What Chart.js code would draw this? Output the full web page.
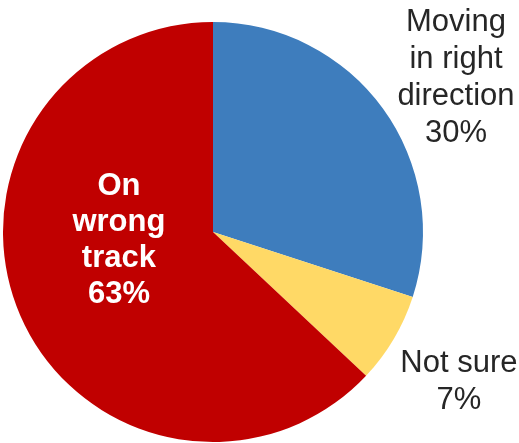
<!DOCTYPE html>
<html>
<head>
<meta charset="utf-8">
<script src="https://cdn.jsdelivr.net/npm/chart.js@4.4.0/dist/chart.umd.min.js"></script>
<style>
    html, body { margin: 0; padding: 0; background: #ffffff; }
    #wrap { width: 519px; height: 443px; position: relative; }
</style>
</head>
<body>
<div id="wrap"><canvas id="pieChart"></canvas></div>
<script>
// Chart data
const categories = ['Moving in right direction', 'Not sure', 'On wrong track'];
const shares = [30, 7, 63];
const sliceColors = ['#3E7DBD', '#FFD966', '#C00000'];

// Label text, one entry per line
const labelLines = [
    ['Moving', 'in right', 'direction', '30%'],
    ['Not sure', '7%'],
    ['On', 'wrong', 'track', '63%']
];

// Where each label sits, relative to the pie centre (in radii)
const labelSpots = [
    { dx: 1.157, dy: -0.957, color: '#262626', bold: false, lineH: 37 },
    { dx: 1.171, dy: 0.667, color: '#262626', bold: false, lineH: 37 },
    { dx: -0.448, dy: -0.176, color: '#ffffff', bold: true, lineH: 36 }
];

const sliceLabels = {
    id: 'sliceLabels',
    afterDatasetsDraw(chart) {
        const ctx = chart.ctx;
        const arcs = chart.getDatasetMeta(0).data;
        ctx.save();
        ctx.textAlign = 'center';
        ctx.textBaseline = 'alphabetic';
        arcs.forEach((arc, i) => {
            const spot = labelSpots[i];
            const r = arc.outerRadius;
            const x = arc.x + spot.dx * r;
            let y = arc.y + spot.dy * r;
            ctx.fillStyle = spot.color;
            ctx.font = (spot.bold ? 'bold ' : '') + '31px "Liberation Sans", Arial, sans-serif';
            labelLines[i].forEach(line => {
                ctx.fillText(line, x, y);
                y += spot.lineH;
            });
        });
        ctx.restore();
    }
};

new Chart(document.getElementById('pieChart'), {
    type: 'pie',
    data: {
        labels: categories,
        datasets: [{
            data: shares,
            backgroundColor: sliceColors,
            borderWidth: 0
        }]
    },
    options: {
        responsive: true,
        maintainAspectRatio: false,
        animation: false,
        layout: {
            padding: { left: 3, right: 96, top: 22, bottom: 1 }
        },
        plugins: {
            legend: { display: false },
            tooltip: { enabled: false },
            title: { display: false }
        }
    },
    plugins: [sliceLabels]
});
</script>
</body>
</html>
